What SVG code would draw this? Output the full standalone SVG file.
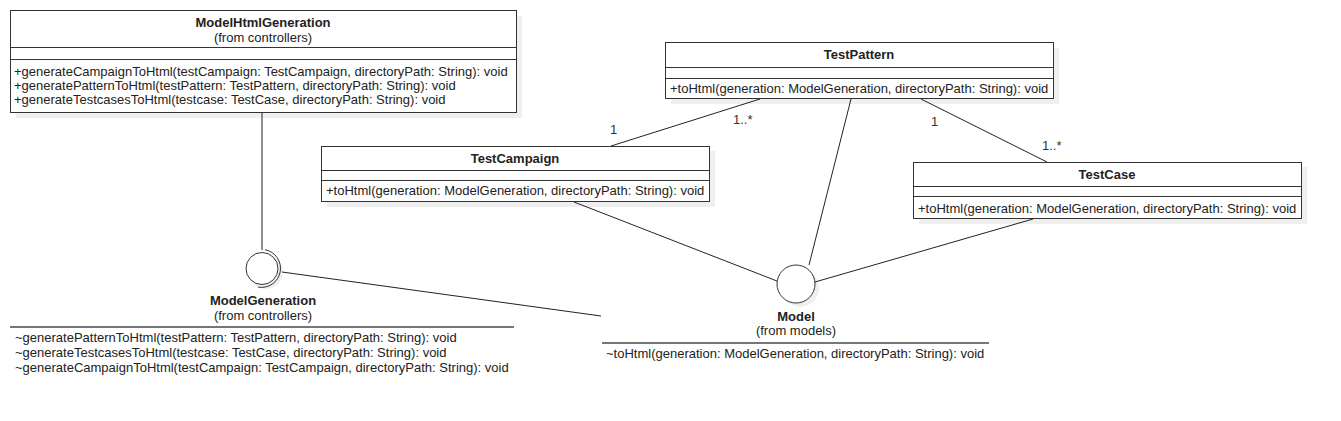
<svg xmlns="http://www.w3.org/2000/svg" width="1341" height="421" viewBox="0 0 1341 421">
<style>
text{font-family:"Liberation Sans",Arial,sans-serif;font-size:13px;fill:#222}
.b{font-weight:bold}
.m{text-anchor:middle}
.box{fill:#fff;stroke:#333;stroke-width:1}
.sh{fill:#efefef}
.sep{stroke:#333;stroke-width:1}
.con{stroke:#222;stroke-width:1;fill:none}
.gl{stroke:#777;stroke-width:2}
.lbl{fill:#333}
</style>
<rect width="1341" height="421" fill="#fff"/>
<g id="ModelHtmlGeneration">
<rect class="sh" x="16" y="16" width="506" height="102"/>
<rect class="box" x="10.5" y="10.5" width="506" height="102"/>
<line class="sep" x1="10.5" y1="47.5" x2="516.5" y2="47.5"/>
<line class="sep" x1="10.5" y1="59.5" x2="516.5" y2="59.5"/>
<text class="b m" x="263" y="27">ModelHtmlGeneration</text>
<text class="m" x="263" y="42">(from controllers)</text>
<text x="14" y="76">+generateCampaignToHtml(testCampaign: TestCampaign, directoryPath: String): void</text>
<text x="14" y="90">+generatePatternToHtml(testPattern: TestPattern, directoryPath: String): void</text>
<text x="14" y="104">+generateTestcasesToHtml(testcase: TestCase, directoryPath: String): void</text>
</g>
<g id="TestPattern">
<rect class="sh" x="671" y="48" width="388" height="56"/>
<rect class="box" x="665.5" y="42.5" width="388" height="56"/>
<line class="sep" x1="665.5" y1="67.5" x2="1053.5" y2="67.5"/>
<line class="sep" x1="665.5" y1="78.5" x2="1053.5" y2="78.5"/>
<text class="b m" x="859" y="59">TestPattern</text>
<text x="670" y="93">+toHtml(generation: ModelGeneration, directoryPath: String): void</text>
</g>
<g id="TestCampaign">
<rect class="sh" x="327" y="151" width="388" height="56"/>
<rect class="box" x="321.5" y="146.5" width="388" height="55"/>
<line class="sep" x1="321.5" y1="170.5" x2="709.5" y2="170.5"/>
<line class="sep" x1="321.5" y1="180.5" x2="709.5" y2="180.5"/>
<text class="b m" x="515" y="163">TestCampaign</text>
<text x="326" y="195">+toHtml(generation: ModelGeneration, directoryPath: String): void</text>
</g>
<g id="TestCase">
<rect class="sh" x="919" y="167" width="388" height="57"/>
<rect class="box" x="913.5" y="162.5" width="388" height="56"/>
<line class="sep" x1="913.5" y1="186.5" x2="1301.5" y2="186.5"/>
<line class="sep" x1="913.5" y1="196.5" x2="1301.5" y2="196.5"/>
<text class="b m" x="1107" y="179">TestCase</text>
<text x="918" y="213">+toHtml(generation: ModelGeneration, directoryPath: String): void</text>
</g>
<g id="ModelGeneration">
<circle cx="266" cy="272" r="17" fill="#efefef"/>
<circle cx="262" cy="268.5" r="16" fill="#fff" stroke="#333" stroke-width="1"/>
<path d="M265 249.7 A19 19 0 0 1 258 287.1" fill="none" stroke="#333" stroke-width="1"/>
<text class="b m" x="263" y="305">ModelGeneration</text>
<text class="m" x="263" y="320">(from controllers)</text>
<line class="gl" x1="10" y1="327" x2="514" y2="327"/>
<text x="15" y="342">~generatePatternToHtml(testPattern: TestPattern, directoryPath: String): void</text>
<text x="15" y="357">~generateTestcasesToHtml(testcase: TestCase, directoryPath: String): void</text>
<text x="15" y="372">~generateCampaignToHtml(testCampaign: TestCampaign, directoryPath: String): void</text>
</g>
<g id="Model">
<circle cx="800" cy="288" r="19" fill="#efefef"/>
<circle cx="796" cy="284" r="19" fill="#fff" stroke="#333" stroke-width="1"/>
<text class="b m" x="796" y="321">Model</text>
<text class="m" x="796" y="335">(from models)</text>
<line class="gl" x1="602" y1="343" x2="989" y2="343"/>
<text x="606" y="358">~toHtml(generation: ModelGeneration, directoryPath: String): void</text>
</g>
<g id="connectors">
<line class="con" x1="262" y1="113" x2="262" y2="250"/>
<line class="con" x1="282" y1="272" x2="601" y2="316"/>
<line class="con" x1="574" y1="202" x2="777" y2="281"/>
<line class="con" x1="851" y1="99" x2="809" y2="265"/>
<line class="con" x1="1033" y1="219" x2="815" y2="282"/>
<line class="con" x1="760" y1="99" x2="611" y2="146"/>
<line class="con" x1="921" y1="99" x2="1047" y2="162"/>
<text class="lbl" x="610" y="134">1</text>
<text class="lbl" x="733" y="124">1..*</text>
<text class="lbl" x="931" y="126">1</text>
<text class="lbl" x="1042" y="150">1..*</text>
</g>
</svg>
